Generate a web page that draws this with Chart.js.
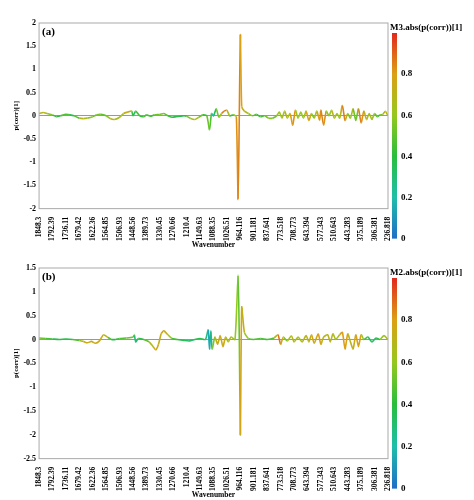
<!DOCTYPE html>
<html><head><meta charset="utf-8">
<script src="https://cdn.jsdelivr.net/npm/chart.js"></script>
<style>body{margin:0;background:#fff}canvas{display:block}</style>
</head><body>
<canvas id="ca" width="474" height="250"></canvas>
<canvas id="cb" width="474" height="250"></canvas>
<script>
const tickLabels=["1848.3","1792.39","1736.11","1679.42","1622.36","1564.85","1506.93","1448.56","1389.73","1330.45","1270.66","1210.4","1149.63","1088.35","1026.51","964.116","901.181","837.641","773.518","708.773","643.394","577.343","510.643","443.283","375.189","306.381","236.818"];

const xA=[0,0.3,0.6,1,1.3,1.6,2,2.3,2.6,3,3.3,3.6,4,4.3,4.6,5,5.3,5.6,6,6.3,6.6,6.9,7,7.2,7.5,7.8,8,8.3,8.6,9,9.3,9.6,9.9,10.2,10.5,10.8,11,11.3,11.6,11.9,12.2,12.5,12.7,12.85,13,13.2,13.4,13.6,13.8,14,14.2,14.5,14.7,14.83,14.92,15,15.1,15.3,15.6,15.9,16.2,16.5,16.8,17.1,17.4,17.7,17.9,18.1,18.3,18.5,18.7,18.9,19.1,19.3,19.5,19.7,19.9,20.1,20.3,20.5,20.7,20.9,21,21.2,21.4,21.6,21.8,22,22.2,22.4,22.6,22.8,23,23.2,23.4,23.6,23.8,24,24.2,24.4,24.6,24.8,25,25.2,25.4,25.6,25.8,26];
const yA=[0.05,0.07,0.05,0.02,-0.02,0,0.03,0.02,0,-0.05,-0.06,-0.05,-0.02,0.02,0.03,0,-0.06,-0.08,-0.03,0.05,0.08,0.1,0,0.1,0,-0.02,0.02,-0.01,0.02,0.03,0.05,0,-0.03,-0.02,-0.01,0,-0.01,-0.06,-0.08,-0.03,0.02,0,-0.3,0.05,0,0.15,-0.03,0.05,0.1,0.12,0,0.02,-0.02,-1.8,0,1.75,0.2,0.1,0.05,0,0.03,-0.02,0,-0.05,-0.05,0,0.08,-0.05,0.1,-0.05,0.05,-0.2,0.12,-0.05,0.08,-0.05,0.1,-0.1,0.05,-0.05,0.1,-0.1,0.12,-0.2,0.1,0,0.12,-0.05,0.05,-0.05,0.22,-0.1,0.05,-0.05,0.15,-0.1,0.15,-0.15,0.1,-0.08,0.05,-0.08,0.05,-0.02,0.02,0.03,0.1,0];
const cA=[0.7,0.7,0.65,0.5,0.35,0.45,0.5,0.45,0.25,0.7,0.7,0.65,0.5,0.55,0.55,0.45,0.7,0.7,0.6,0.7,0.75,0.7,0.15,0.5,0.4,0.45,0.5,0.4,0.5,0.55,0.55,0.45,0.4,0.35,0.4,0.35,0.45,0.65,0.7,0.6,0.45,0.4,0.65,0.3,0.1,0.55,0.5,0.8,0.9,0.85,0.45,0.4,0.8,0.85,0.85,0.85,0.75,0.7,0.65,0.5,0.45,0.4,0.5,0.6,0.55,0.5,0.75,0.5,0.8,0.55,0.7,0.9,0.75,0.5,0.7,0.5,0.75,0.85,0.6,0.5,0.75,0.85,0.8,0.9,0.75,0.4,0.8,0.6,0.7,0.5,0.9,0.8,0.6,0.5,0.8,0.25,0.8,0.9,0.75,0.7,0.6,0.7,0.6,0.4,0.5,0.6,0.85,0.5];

const xB=[0,0.5,1,1.5,2,2.5,3,3.3,3.6,3.9,4.2,4.5,4.8,5.1,5.4,5.7,6,6.5,7,7.1,7.2,7.4,7.8,8.2,8.5,8.7,8.9,9.1,9.3,9.6,9.9,10.3,10.8,11.2,11.6,12,12.4,12.6,12.7,12.8,12.9,13.1,13.3,13.5,13.7,13.9,14.1,14.3,14.6,14.83,14.92,15,15.1,15.3,15.6,16,16.5,17,17.5,17.8,18,18.2,18.5,18.8,19,19.3,19.6,19.9,20.1,20.3,20.5,20.8,21,21.2,21.5,21.7,21.9,22.1,22.4,22.6,22.8,23,23.2,23.4,23.6,23.8,24,24.2,24.5,24.8,25.1,25.4,25.7,26];
const yB=[0.03,0.02,0.01,0,0.01,0,-0.02,-0.04,-0.07,-0.04,-0.08,-0.03,0.1,0.05,0,0,0.02,0.03,0.05,0.09,-0.05,0.02,0,-0.05,-0.15,-0.22,-0.1,0.12,0.18,0.1,0.02,0,-0.02,-0.03,0,0.02,0,0.2,-0.2,0.18,-0.2,0.05,-0.1,0.08,-0.15,0.05,-0.05,0.05,0,1.35,0,-2,0.68,0.15,0.02,0,0.02,0,0.03,0.1,-0.1,0.05,-0.03,0.08,-0.05,0.05,-0.05,0.08,-0.05,0.1,-0.08,0.12,-0.1,0.05,0.1,-0.05,0.12,0,0.1,0.15,-0.2,0.12,-0.05,-0.2,0.1,-0.15,0.1,0,0.05,-0.05,0.03,0,0.08,0];
const cB=[0.55,0.5,0.4,0.35,0.4,0.35,0.6,0.7,0.8,0.7,0.8,0.7,0.8,0.6,0.35,0.4,0.45,0.5,0.55,0.4,0.2,0.4,0.4,0.6,0.75,0.8,0.7,0.75,0.8,0.7,0.5,0.4,0.35,0.3,0.35,0.4,0.35,0.2,0.1,0.2,0.4,0.7,0.75,0.7,0.8,0.7,0.6,0.75,0.5,0.7,0.3,0.8,0.75,0.7,0.5,0.45,0.5,0.4,0.5,0.85,0.9,0.6,0.5,0.8,0.6,0.7,0.6,0.8,0.6,0.85,0.7,0.8,0.8,0.6,0.8,0.6,0.8,0.5,0.8,0.8,0.8,0.8,0.6,0.8,0.7,0.9,0.7,0.5,0.4,0.3,0.35,0.4,0.8,0.5];

function cmap(v){
  const stops=[[0,[30,110,200]],[0.2,[30,190,170]],[0.4,[40,190,60]],[0.6,[150,200,30]],[0.8,[220,160,20]],[1,[225,40,30]]];
  v=Math.max(0,Math.min(1,v));
  for(let i=0;i<stops.length-1;i++){const [a,ca]=stops[i],[b,cb]=stops[i+1];
    if(v<=b){const t=(v-a)/(b-a);return `rgb(${ca.map((c,k)=>Math.round(c+(cb[k]-c)*t)).join(',')})`;}}
  return 'rgb(225,40,30)';
}

function make(id,xs,ys,cs,ymin,ymax,panel,cbTitle,topPad){
  const pts=xs.map((x,i)=>({x,y:ys[i]}));
  const deco={id:'deco',afterDraw(ch){
    const c=ch.ctx,a=ch.chartArea;
    c.save();
    c.strokeStyle='#aaa';c.lineWidth=1;c.strokeRect(a.left,a.top,a.right-a.left,a.bottom-a.top);
    c.fillStyle='#000';c.font='bold 11px "Liberation Serif"';c.textBaseline='top';c.fillText(panel,a.left+3,a.top+4);
    const bx=a.right+4,bw=5,bt=a.top+10,bb=a.bottom+30;
    const g=c.createLinearGradient(0,bb,0,bt);
    for(let v=0;v<=1.0001;v+=0.1)g.addColorStop(Math.min(1,v),cmap(v));
    c.fillStyle=g;c.fillRect(bx,bt,bw,bb-bt);
    c.fillStyle='#000';c.font='bold 9px "Liberation Serif"';c.textBaseline='middle';
    [0,0.2,0.4,0.6,0.8].forEach(v=>c.fillText(String(v),bx+9,bb-(bb-bt)*v));
    c.textBaseline='bottom';c.fillText(cbTitle,a.right+2,bt-1);
    c.restore();
  }};
  new Chart(document.getElementById(id),{
    type:'line',
    data:{datasets:[{data:pts,borderWidth:1.6,pointRadius:0,tension:0.2,
      segment:{borderColor:ctx=>cmap((cs[ctx.p0DataIndex]+cs[ctx.p1DataIndex])/2)}}]},
    options:{responsive:false,animation:false,
      layout:{padding:{right:86,top:topPad,left:12,bottom:0}},
      plugins:{legend:{display:false},tooltip:{enabled:false}},
      scales:{
        x:{type:'linear',min:0,max:26,border:{display:false},
          grid:{display:false},
          ticks:{stepSize:1,autoSkip:false,maxRotation:90,minRotation:90,color:'#000',font:{family:'Liberation Serif',size:7.5,weight:'bold'},padding:0,
            callback:v=>tickLabels[v]},
          title:{display:true,text:'Wavenumber',color:'#000',font:{family:'Liberation Serif',size:7.5,weight:'bold'},padding:0}},
        y:{min:ymin,max:ymax,border:{display:false},
          grid:{drawTicks:false,color:ctx=>ctx.tick&&ctx.tick.value===0?'#999':'rgba(0,0,0,0)'},
          ticks:{stepSize:0.5,color:'#000',font:{family:'Liberation Serif',size:8,weight:'bold'},padding:3,callback:v=>String(v)},
          title:{display:true,text:'p(corr)[1]',color:'#000',font:{family:'Liberation Serif',size:7,weight:'bold'},padding:0}}
      }},
    plugins:[deco]
  });
}
make('ca',xA,yA,cA,-2,2,'(a)','M3.abs(p(corr))[1]',23);
make('cb',xB,yB,cB,-2.5,1.5,'(b)','M2.abs(p(corr))[1]',18);
</script>
</body></html>
